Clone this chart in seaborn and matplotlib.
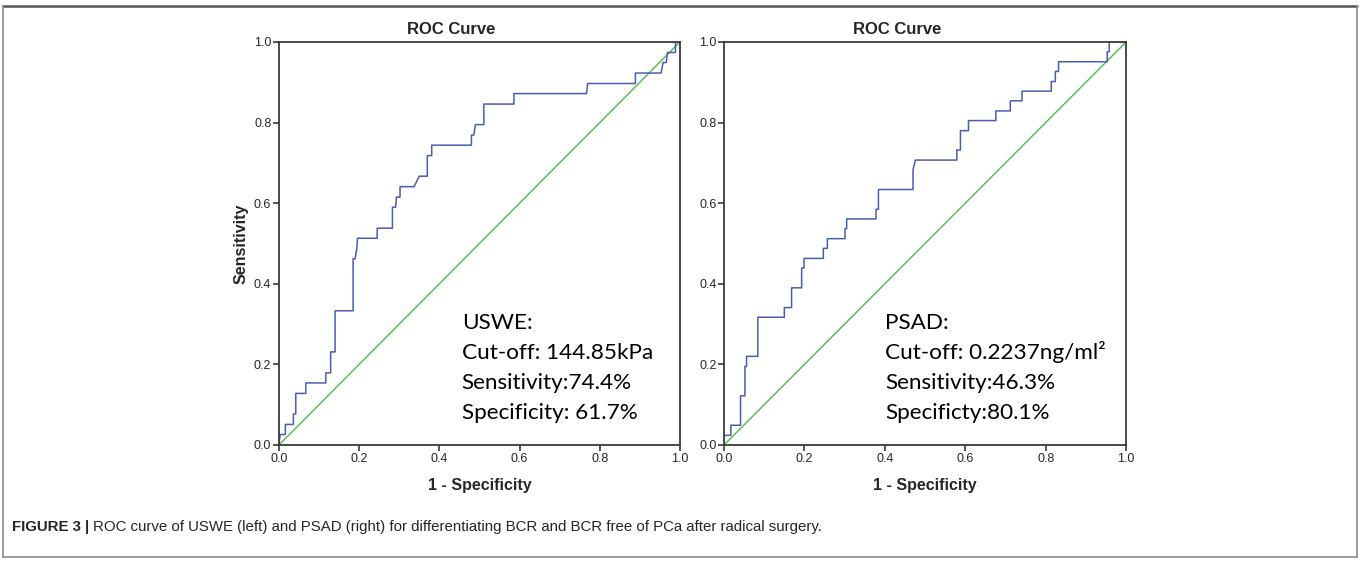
import matplotlib
matplotlib.use("Agg")
import pandas as pd
import matplotlib.pyplot as plt
import seaborn as sns
from matplotlib.lines import Line2D

# ROC curve points (1 - specificity, sensitivity)
uswe_fpr = [0.000, 0.003, 0.016, 0.016, 0.036, 0.036, 0.042, 0.042, 0.067, 0.067,
            0.117, 0.117, 0.129, 0.129, 0.140, 0.140, 0.185, 0.185, 0.190, 0.194,
            0.196, 0.245, 0.245, 0.283, 0.283, 0.291, 0.293, 0.302, 0.302, 0.337,
            0.350, 0.370, 0.370, 0.381, 0.381, 0.480, 0.480, 0.486, 0.490, 0.511,
            0.511, 0.586, 0.586, 0.767, 0.770, 0.889, 0.889, 0.953, 0.958, 0.966,
            0.969, 0.989, 0.989, 1.000]
uswe_tpr = [0.000, 0.026, 0.026, 0.051, 0.051, 0.077, 0.077, 0.128, 0.128, 0.154,
            0.154, 0.179, 0.179, 0.231, 0.231, 0.333, 0.333, 0.462, 0.462, 0.487,
            0.513, 0.513, 0.538, 0.538, 0.590, 0.590, 0.615, 0.615, 0.641, 0.641,
            0.667, 0.667, 0.718, 0.718, 0.744, 0.744, 0.769, 0.769, 0.795, 0.795,
            0.846, 0.846, 0.872, 0.872, 0.897, 0.897, 0.923, 0.923, 0.949, 0.949,
            0.974, 0.974, 1.000, 1.000]

psad_fpr = [0.000, 0.000, 0.017, 0.017, 0.041, 0.041, 0.052, 0.052, 0.056, 0.056,
            0.084, 0.084, 0.150, 0.150, 0.168, 0.168, 0.193, 0.193, 0.199, 0.199,
            0.247, 0.247, 0.257, 0.257, 0.301, 0.301, 0.305, 0.305, 0.378, 0.378,
            0.384, 0.384, 0.470, 0.470, 0.476, 0.579, 0.579, 0.588, 0.588, 0.608,
            0.608, 0.676, 0.676, 0.712, 0.712, 0.741, 0.741, 0.814, 0.814, 0.824,
            0.824, 0.832, 0.832, 0.953, 0.953, 0.958, 0.958, 1.000]
psad_tpr = [0.000, 0.024, 0.024, 0.049, 0.049, 0.122, 0.122, 0.195, 0.195, 0.220,
            0.220, 0.317, 0.317, 0.341, 0.341, 0.390, 0.390, 0.439, 0.439, 0.463,
            0.463, 0.488, 0.488, 0.512, 0.512, 0.537, 0.537, 0.561, 0.561, 0.585,
            0.585, 0.634, 0.634, 0.683, 0.707, 0.707, 0.732, 0.732, 0.780, 0.780,
            0.805, 0.805, 0.829, 0.829, 0.854, 0.854, 0.878, 0.878, 0.902, 0.902,
            0.927, 0.927, 0.951, 0.951, 0.976, 0.976, 1.000, 1.000]

ref_line = [0.0, 1.0]
ticks = [0.0, 0.2, 0.4, 0.6, 0.8, 1.0]

uswe_text = ["USWE:", "Cut-off: 144.85kPa", "Sensitivity:74.4%", "Specificity: 61.7%"]
psad_text = ["PSAD:", "Cut-off: 0.2237ng/ml\u00b2", "Sensitivity:46.3%", "Specificty:80.1%"]
text_rows = [0.287, 0.213, 0.139, 0.0645]

caption_bold = "FIGURE 3 |"
caption_rest = ("ROC curve of USWE (left) and PSAD (right) for differentiating "
                "BCR and BCR free of PCa after radical surgery.")

sns.set_style("white")
plt.rcParams['font.family'] = ['Liberation Sans', 'DejaVu Sans']

blue = "#4b5cb3"
green = "#4dba4d"
frame = "#3a3a3a"

W, H = 1362, 563
fig = plt.figure(figsize=(W / 100, H / 100), dpi=100)
ax1 = fig.add_axes([0.2048, 0.2096, 0.2944, 0.7158])
ax2 = fig.add_axes([0.5316, 0.2096, 0.2952, 0.7158])

panels = [
    (ax1, uswe_fpr, uswe_tpr, uswe_text, 0.456, True),
    (ax2, psad_fpr, psad_tpr, psad_text, 0.400, False),
]

for ax, fpr, tpr, lines, tx, show_ylabel in panels:
    df = pd.DataFrame({'fpr': fpr, 'tpr': tpr})
    ref = pd.DataFrame({'x': ref_line, 'y': ref_line})
    sns.lineplot(data=ref, x='x', y='y', ax=ax, color=green, linewidth=1.0, sort=False)
    sns.lineplot(data=df, x='fpr', y='tpr', ax=ax, color=blue, linewidth=1.1,
                 sort=False, estimator=None)
    ax.set_xlim(0, 1)
    ax.set_ylim(0, 1)
    ax.set_xticks(ticks)
    ax.set_yticks(ticks)
    ax.set_xticklabels([f"{t:.1f}" for t in ticks])
    ax.set_yticklabels([f"{t:.1f}" for t in ticks])
    ax.tick_params(axis='both', which='both', direction='out', length=4, width=1.2,
                   color=frame, labelsize=9, pad=1.5, bottom=True, left=True)
    for s in ax.spines.values():
        s.set_color(frame)
        s.set_linewidth(1.3)
    # SPSS centres the title over the whole chart area, a bit left of the plot centre
    ax.set_title("ROC Curve", fontsize=12, fontweight='bold', pad=6, x=0.43)
    ax.set_xlabel("1 - Specificity", fontsize=11.5, fontweight='bold', labelpad=9.5)
    if show_ylabel:
        ax.set_ylabel("Sensitivity", fontsize=11.5, fontweight='bold', labelpad=4)
    else:
        ax.set_ylabel("")
    for line, ty in zip(lines, text_rows):
        ax.text(tx, ty, line, fontsize=16.2, family=['Lato', 'DejaVu Sans'],
                color='black', va='baseline', ha='left')

# outer frame of the figure panel
x0, x1 = 3 / W, 1357 / W
ytop, ybot = 1 - 6 / H, 1 - 557 / H
fig.add_artist(Line2D([x0, x1], [ytop, ytop], transform=fig.transFigure,
                      color='#555555', linewidth=1.8))
fig.add_artist(Line2D([x0, x0], [ytop, ybot], transform=fig.transFigure,
                      color='#8a8a8a', linewidth=1.2))
fig.add_artist(Line2D([x1, x1], [ytop, ybot], transform=fig.transFigure,
                      color='#8a8a8a', linewidth=1.2))
fig.add_artist(Line2D([x0, x1], [ybot, ybot], transform=fig.transFigure,
                      color='#8a8a8a', linewidth=1.2))

t = fig.text(12 / W, 1 - 527 / H, caption_bold, fontsize=10.8, fontweight='bold',
             va='center', ha='left')
fig.canvas.draw()
bb = t.get_window_extent(renderer=fig.canvas.get_renderer())
fig.text((bb.x1 + 4) / W, 1 - 527 / H, caption_rest, fontsize=10.8,
         va='center', ha='left')

fig.savefig("out.png", dpi=100)
